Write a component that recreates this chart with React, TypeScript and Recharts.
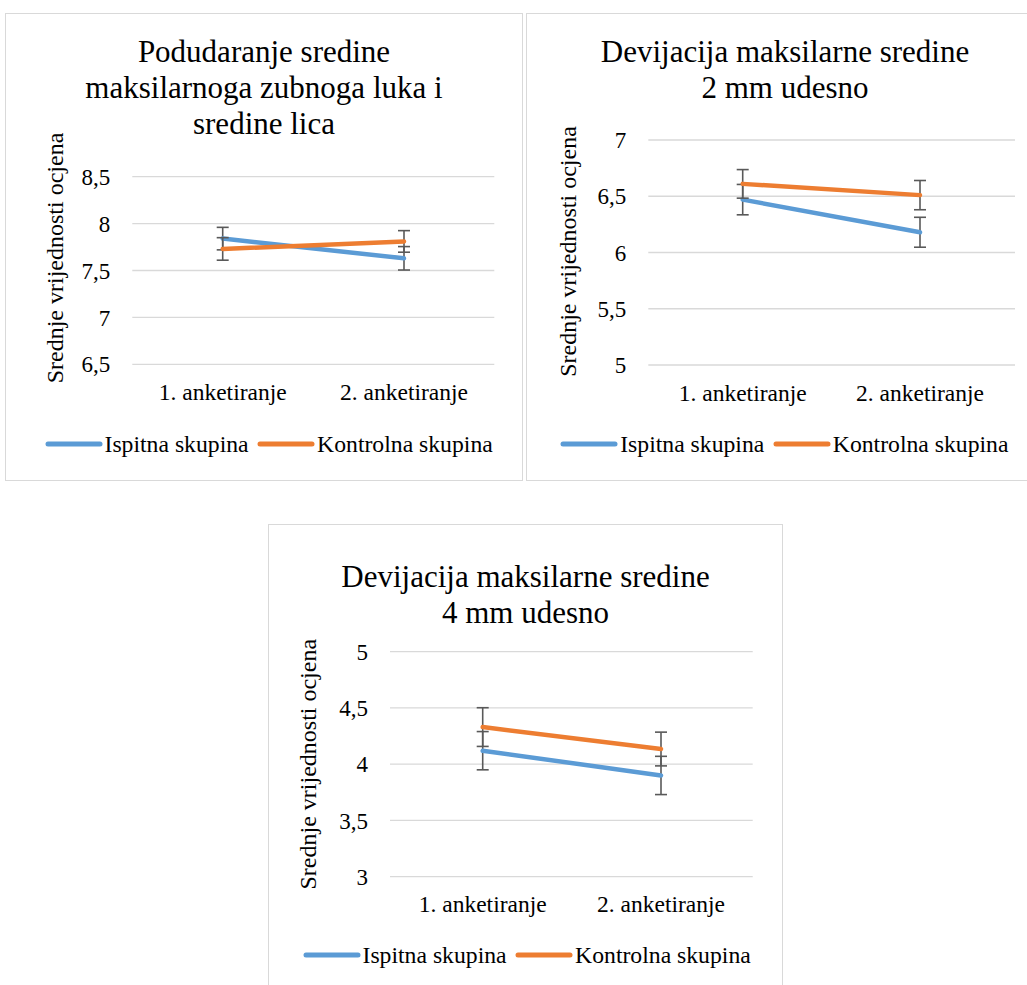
import { LineChart, Line, XAxis, YAxis, CartesianGrid, ErrorBar, Legend, Label } from 'recharts';

const FONT = '"Liberation Serif", "Times New Roman", serif';
const PLAVA = '#5B9BD5';
const NARANCASTA = '#ED7D31';

const kategorije = ['1. anketiranje', '2. anketiranje'];

// Podudaranje sredine
const ispitna1 = [7.84, 7.63];
const kontrolna1 = [7.73, 7.81];
const ispitnaGreska1 = [0.12, 0.125];
const kontrolnaGreska1 = [0.12, 0.115];
const ticks1 = [6.5, 7, 7.5, 8, 8.5];

// 2 mm udesno
const ispitna2 = [6.47, 6.18];
const kontrolna2 = [6.61, 6.51];
const ispitnaGreska2 = [0.135, 0.133];
const kontrolnaGreska2 = [0.127, 0.13];
const ticks2 = [5, 5.5, 6, 6.5, 7];

// 4 mm udesno
const ispitna3 = [4.12, 3.9];
const kontrolna3 = [4.33, 4.135];
const ispitnaGreska3 = [0.17, 0.17];
const kontrolnaGreska3 = [0.172, 0.15];
const ticks3 = [3, 3.5, 4, 4.5, 5];

const buildData = (isp: number[], kon: number[], ispErr: number[], konErr: number[]) =>
  kategorije.map((k, i) => ({
    kategorija: k,
    ispitna: isp[i],
    kontrolna: kon[i],
    ispitnaErr: ispErr[i],
    kontrolnaErr: konErr[i],
  }));

const fmt = (v: number) => String(v).replace('.', ',');

function LegendContent(props: any) {
  const items = props.payload || [];
  return (
    <div style={{ display: 'flex', alignItems: 'center', whiteSpace: 'nowrap', fontFamily: FONT, fontSize: 23.7, lineHeight: '28px', color: '#000' }}>
      {items.map((it: any, i: number) => (
        <div key={i} style={{ display: 'flex', alignItems: 'center', marginLeft: i > 0 ? 8.5 : 0 }}>
          <svg width={58} height={10} style={{ marginRight: 2 }}>
            <line x1={3} y1={5} x2={55} y2={5} stroke={it.color} strokeWidth={5} strokeLinecap="round" />
          </svg>
          <span>{it.value}</span>
        </div>
      ))}
    </div>
  );
}

type PanelProps = {
  left: number;
  top: number;
  width: number;
  height: number;
  data: ReturnType<typeof buildData>;
  ticks: number[];
  title: string[];
  titleTop: number;
  margin: { top: number; right: number; bottom: number; left: number };
  yWidth: number;
  pad: { left: number; right: number };
  labelX: number;
  labelDy: number;
  legendLeft: number;
  legendTop: number;
};

function Panel(p: PanelProps) {
  const yLabel = (props: any) => {
    const vb = props.viewBox || { y: 0, height: 0 };
    const x = p.labelX;
    const y = vb.y + vb.height / 2 + p.labelDy;
    return (
      <text x={x} y={y} transform={`rotate(-90 ${x} ${y})`} textAnchor="middle" fontFamily={FONT} fontSize={24} fill="#000">
        Srednje vrijednosti ocjena
      </text>
    );
  };

  return (
    <div style={{ position: 'absolute', left: p.left, top: p.top, width: p.width, height: p.height, outline: '1.5px solid #d9d9d9', outlineOffset: -1.5, background: '#fff' }}>
      <div style={{ position: 'absolute', left: 0, top: p.titleTop, width: p.width, textAlign: 'center', fontFamily: FONT, fontSize: 31, lineHeight: '36.3px', color: '#000' }}>
        {p.title.map((t, i) => (
          <div key={i}>{t}</div>
        ))}
      </div>
      <div style={{ position: 'absolute', left: 0, top: 0 }}>
        <LineChart width={p.width} height={p.height} data={p.data} margin={p.margin}>
          <CartesianGrid vertical={false} stroke="#d9d9d9" strokeWidth={1.3} />
          <XAxis
            dataKey="kategorija"
            interval={0}
            axisLine={false}
            tickLine={false}
            tickSize={0}
            tickMargin={19}
            height={40}
            padding={p.pad}
            tick={{ fontFamily: FONT, fontSize: 23.5, fill: '#000' }}
          />
          <YAxis
            domain={[p.ticks[0], p.ticks[p.ticks.length - 1]]}
            ticks={p.ticks}
            tickFormatter={fmt}
            axisLine={false}
            tickLine={false}
            tickSize={0}
            tickMargin={22}
            width={p.yWidth}
            tick={{ fontFamily: FONT, fontSize: 23, fill: '#000' }}
          >
            <Label content={yLabel} />
          </YAxis>
          <Legend
            layout="horizontal"
            verticalAlign="middle"
            align="center"
            content={<LegendContent />}
            wrapperStyle={{ left: p.legendLeft, top: p.legendTop, width: 'auto' }}
          />
          <Line
            type="linear"
            dataKey="ispitna"
            name="Ispitna skupina"
            stroke={PLAVA}
            strokeWidth={4.5}
            strokeLinecap="round"
            dot={false}
            activeDot={false}
            isAnimationActive={false}
          >
            <ErrorBar dataKey="ispitnaErr" direction="y" width={6} stroke="#595959" strokeWidth={1.6} isAnimationActive={false} />
          </Line>
          <Line
            type="linear"
            dataKey="kontrolna"
            name="Kontrolna skupina"
            stroke={NARANCASTA}
            strokeWidth={4.5}
            strokeLinecap="round"
            dot={false}
            activeDot={false}
            isAnimationActive={false}
          >
            <ErrorBar dataKey="kontrolnaErr" direction="y" width={6} stroke="#595959" strokeWidth={1.6} isAnimationActive={false} />
          </Line>
        </LineChart>
      </div>
    </div>
  );
}

export default function App() {
  return (
    <div style={{ position: 'absolute', left: 0, top: 0, width: 1027, height: 985, overflow: 'hidden', background: '#fff' }}>
      <Panel
        left={5}
        top={13}
        width={518}
        height={468}
        data={buildData(ispitna1, kontrolna1, ispitnaGreska1, kontrolnaGreska1)}
        ticks={ticks1}
        title={['Podudaranje sredine', 'maksilarnoga zubnoga luka i', 'sredine lica']}
        titleTop={20.6}
        margin={{ top: 163.7, right: 28.7, bottom: 76.7, left: 0 }}
        yWidth={127.3}
        pad={{ left: 90.4, right: 90.3 }}
        labelX={58}
        labelDy={-12.5}
        legendLeft={39.5}
        legendTop={416.7}
      />
      <Panel
        left={526}
        top={13}
        width={518}
        height={468}
        data={buildData(ispitna2, kontrolna2, ispitnaGreska2, kontrolnaGreska2)}
        ticks={ticks2}
        title={['Devijacija maksilarne sredine', '2 mm udesno']}
        titleTop={20.6}
        margin={{ top: 127, right: 29, bottom: 76, left: 0 }}
        yWidth={122.3}
        pad={{ left: 94.4, right: 95 }}
        labelX={50}
        labelDy={-1}
        legendLeft={34.2}
        legendTop={416.7}
      />
      <Panel
        left={268}
        top={524}
        width={515}
        height={468}
        data={buildData(ispitna3, kontrolna3, ispitnaGreska3, kontrolnaGreska3)}
        ticks={ticks3}
        title={['Devijacija maksilarne sredine', '4 mm udesno']}
        titleTop={35}
        margin={{ top: 127.7, right: 30.3, bottom: 75.3, left: 0 }}
        yWidth={122}
        pad={{ left: 92.7, right: 91.7 }}
        labelX={48}
        labelDy={0}
        legendLeft={34.5}
        legendTop={417.3}
      />
    </div>
  );
}
